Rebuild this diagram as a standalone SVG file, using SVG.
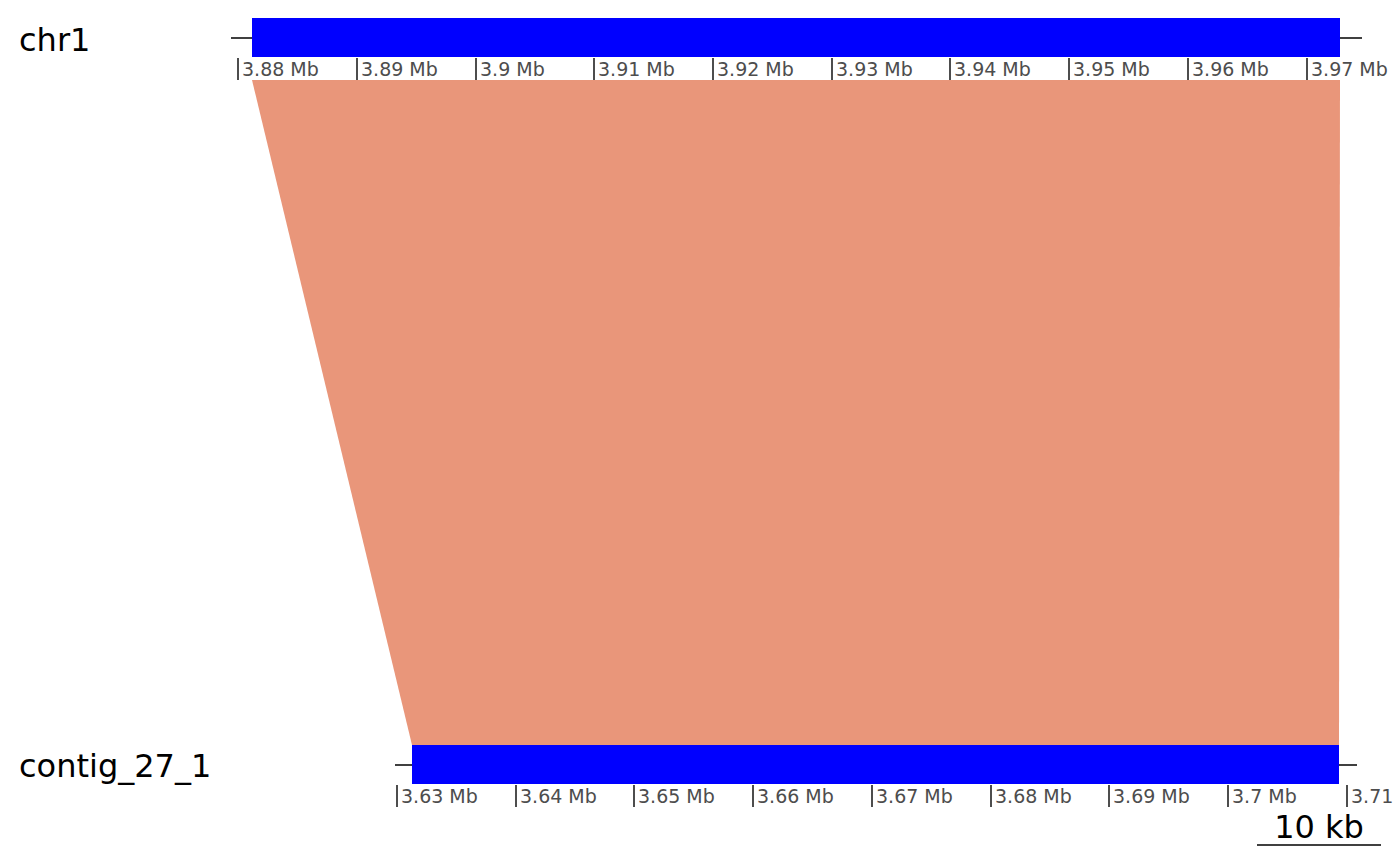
<svg xmlns="http://www.w3.org/2000/svg" width="1400" height="865" viewBox="0 0 1400 865">
<style>
.title{font-family:"DejaVu Sans",sans-serif;font-size:32px;fill:#000}
.tl{font-family:"DejaVu Sans",sans-serif;font-size:19px;fill:#4D4D4D}
.tick{stroke:#4D4D4D;stroke-width:2}
.axis{stroke:#000;stroke-width:1.6}
.bar{fill:#0000FF}
</style>
<rect width="1400" height="865" fill="#fff"/>
<g id="connectors">
<polygon points="252,80 1340,80 1339,745 412,745" fill="#E9967A"/>
</g>
<g id="chr1">
<text class="title" x="19" y="51">chr1</text>
<line class="axis" x1="231" y1="38" x2="1362" y2="38"/>
<rect class="bar" x="252" y="18" width="1088" height="39"/>
<g id="chr1-ticks">
<line class="tick" x1="238" y1="58" x2="238" y2="80"/><text class="tl" x="242" y="76">3.88 Mb</text>
<line class="tick" x1="357" y1="58" x2="357" y2="80"/><text class="tl" x="361" y="76">3.89 Mb</text>
<line class="tick" x1="476" y1="58" x2="476" y2="80"/><text class="tl" x="480" y="76">3.9 Mb</text>
<line class="tick" x1="594" y1="58" x2="594" y2="80"/><text class="tl" x="598" y="76">3.91 Mb</text>
<line class="tick" x1="713" y1="58" x2="713" y2="80"/><text class="tl" x="717" y="76">3.92 Mb</text>
<line class="tick" x1="832" y1="58" x2="832" y2="80"/><text class="tl" x="836" y="76">3.93 Mb</text>
<line class="tick" x1="950" y1="58" x2="950" y2="80"/><text class="tl" x="954" y="76">3.94 Mb</text>
<line class="tick" x1="1069" y1="58" x2="1069" y2="80"/><text class="tl" x="1073" y="76">3.95 Mb</text>
<line class="tick" x1="1188" y1="58" x2="1188" y2="80"/><text class="tl" x="1192" y="76">3.96 Mb</text>
<line class="tick" x1="1307" y1="58" x2="1307" y2="80"/><text class="tl" x="1311" y="76">3.97 Mb</text>
</g>
</g>
<g id="contig_27_1">
<text class="title" x="19" y="777">contig_27_1</text>
<line class="axis" x1="395" y1="765" x2="1357" y2="765"/>
<rect class="bar" x="412" y="745" width="927" height="39"/>
<g id="contig-ticks">
<line class="tick" x1="397" y1="785" x2="397" y2="807"/><text class="tl" x="401" y="803">3.63 Mb</text>
<line class="tick" x1="516" y1="785" x2="516" y2="807"/><text class="tl" x="520" y="803">3.64 Mb</text>
<line class="tick" x1="634" y1="785" x2="634" y2="807"/><text class="tl" x="638" y="803">3.65 Mb</text>
<line class="tick" x1="753" y1="785" x2="753" y2="807"/><text class="tl" x="757" y="803">3.66 Mb</text>
<line class="tick" x1="872" y1="785" x2="872" y2="807"/><text class="tl" x="876" y="803">3.67 Mb</text>
<line class="tick" x1="991" y1="785" x2="991" y2="807"/><text class="tl" x="995" y="803">3.68 Mb</text>
<line class="tick" x1="1109" y1="785" x2="1109" y2="807"/><text class="tl" x="1113" y="803">3.69 Mb</text>
<line class="tick" x1="1228" y1="785" x2="1228" y2="807"/><text class="tl" x="1232" y="803">3.7 Mb</text>
<line class="tick" x1="1347" y1="785" x2="1347" y2="807"/><text class="tl" x="1351" y="803">3.71</text>
</g>
</g>
<g id="scalebar">
<line x1="1257" y1="845" x2="1381" y2="845" stroke="#000" stroke-width="1.6"/>
<text class="title" x="1319" y="838" text-anchor="middle">10 kb</text>
</g>
</svg>
